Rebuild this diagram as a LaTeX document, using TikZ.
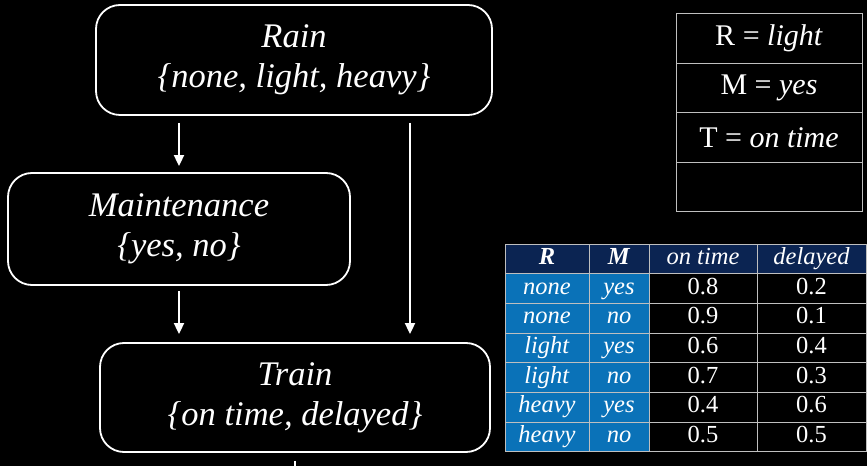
\documentclass[tikz,border=0pt]{standalone}
\usepackage{fontspec}
\setmainfont{LiberationSerif}[Extension=.ttf, UprightFont=*-Regular, ItalicFont=*-Italic, BoldFont=*-Bold, BoldItalicFont=*-BoldItalic]
\usepackage{tikz}
\usepackage{xcolor}
\usetikzlibrary{arrows.meta,positioning}

\definecolor{hdrblue}{HTML}{0B2452}
\definecolor{cellblue}{HTML}{0A72B8}
\definecolor{gridgray}{HTML}{BFBFBF}
\newcommand{\tabfont}{\fontsize{24.5}{28}\selectfont}

\begin{document}
\begin{tikzpicture}[x=1pt, y=1pt,
  var/.style={draw=white, line width=1.8pt, rounded corners=24pt, align=center, text=white, inner sep=0pt, font=\fontsize{34.5}{40}\selectfont\itshape},
  arr/.style={draw=white, line width=1.8pt, -{Triangle[length=11pt,width=10pt]}},
  evbox/.style={draw=gridgray, line width=0.9pt, minimum width=186pt, minimum height=49.5pt, inner sep=0pt, text=white, font=\fontsize{30}{36}\selectfont},
  cell/.style={draw=gridgray, line width=0.9pt, minimum height=29.7pt, inner sep=0pt, text height=16pt, text depth=5pt, text=white, font=\tabfont}]
  \fill[black] (0,0) rectangle (867,466);
  \useasboundingbox (0,0) rectangle (867,466);

  % network
  \node[var, minimum width=396pt, minimum height=110pt] (rain) at (294,406) {Rain\\\{none, light, heavy\}};
  \node[var, minimum width=342pt, minimum height=112pt] (maint) at (179,237) {Maintenance\\\{yes, no\}};
  \node[var, minimum width=390pt, minimum height=109pt] (train) at (295,68.5) {Train\\\{on time, delayed\}};
  \coordinate (side) at (410,0);
  \coordinate (exit) at (295,0);
  \draw[arr, shorten <=7pt, shorten >=6pt] (maint.north |- rain.south) -- (maint.north);
  \draw[arr, shorten <=5pt, shorten >=8pt] (maint.south) -- (maint.south |- train.north);
  \draw[arr, shorten <=7pt, shorten >=8pt] (rain.south -| side) -- (train.north -| side);
  \draw[white, line width=1.8pt, shorten <=8pt] (train.south) -- (exit);

  % evidence
  \foreach \txt [count=\i] in {R = \textit{light}, M = \textit{yes}, T = \textit{on time}, {}}
    \node[evbox] (ev-\i) at (769,{427.5-49.5*(\i-1)}) {\txt};

  % table for Train
  \foreach \h/\w/\cx [count=\j] in {\textbf{\textit{R}}/84/547, \textbf{\textit{M}}/60/619, \textit{on time}/108/703, \textit{delayed}/109/811.5}
    \node[cell, fill=hdrblue, minimum width=\w pt] (th-\j) at (\cx,207.15) {\h};
  \foreach \r/\m/\pon/\pdel [count=\i] in {none/yes/0.8/0.2, none/no/0.9/0.1, light/yes/0.6/0.4, light/no/0.7/0.3, heavy/yes/0.4/0.6, heavy/no/0.5/0.5} {
    \pgfmathsetmacro{\cy}{222-29.7*(\i+0.5)}
    \node[cell, fill=cellblue, minimum width=84pt] (td-\i-1) at (547,\cy) {\textit{\r}};
    \node[cell, fill=cellblue, minimum width=60pt] (td-\i-2) at (619,\cy) {\textit{\m}};
    \node[cell, fill=black, minimum width=108pt] (td-\i-3) at (703,\cy) {\pon};
    \node[cell, fill=black, minimum width=109pt] (td-\i-4) at (811.5,\cy) {\pdel};
  }
\end{tikzpicture}
\end{document}
